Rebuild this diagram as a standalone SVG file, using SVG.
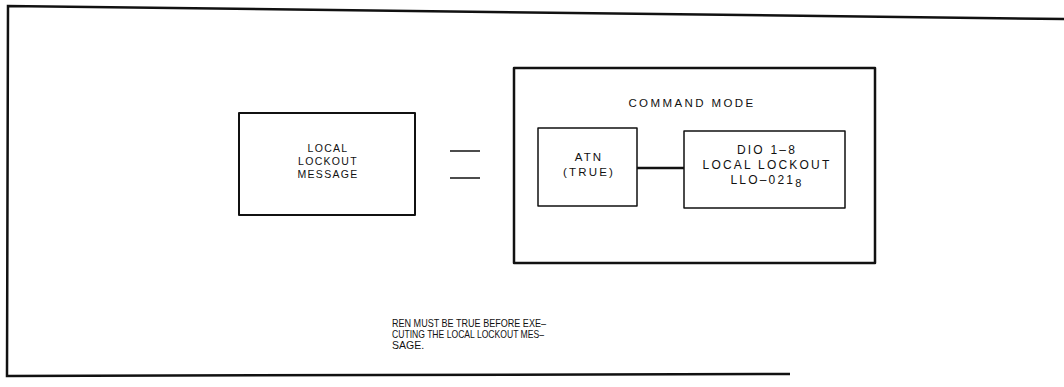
<svg xmlns="http://www.w3.org/2000/svg" width="1064" height="387" viewBox="0 0 1064 387">
<style>
.box{fill:none;stroke:#111;stroke-linejoin:round}
.t{font-family:"Liberation Sans",Arial,sans-serif;fill:#111;text-anchor:middle}
.note{font-family:"Liberation Sans",Arial,sans-serif;fill:#111;font-size:10.5px}
</style>
<rect width="1064" height="387" fill="#fff"/>
<g id="frame">
<polyline points="1064,19 8,6 7,376 790,374" fill="none" stroke="#111" stroke-width="2.5"/>
</g>
<g id="node-message">
<rect class="box" x="239" y="113" width="176" height="102" stroke-width="2"/>
<text class="t" font-size="10.5" letter-spacing="1.3"><tspan x="328" y="152">LOCAL</tspan><tspan x="328" y="165">LOCKOUT</tspan><tspan x="328" y="178">MESSAGE</tspan></text>
</g>
<g id="equals">
<line x1="450" y1="151" x2="480" y2="151" stroke="#111" stroke-width="1.5"/>
<line x1="450" y1="178" x2="480" y2="178" stroke="#111" stroke-width="1.5"/>
</g>
<g id="node-command-mode">
<rect class="box" x="514" y="68" width="361" height="195" stroke-width="2.5"/>
<text class="t" x="692" y="107" font-size="11.5" letter-spacing="2.4">COMMAND MODE</text>
</g>
<g id="node-atn">
<rect class="box" x="538" y="128" width="99" height="78" stroke-width="1.5"/>
<text class="t" font-size="11.5" letter-spacing="2.2"><tspan x="589" y="161">ATN</tspan><tspan x="589" y="176">(TRUE)</tspan></text>
</g>
<g id="node-dio">
<rect class="box" x="684" y="131" width="161" height="77" stroke-width="1.5"/>
<text class="t" font-size="12" letter-spacing="2.2"><tspan x="767" y="154">DIO 1–8</tspan><tspan x="767" y="169">LOCAL LOCKOUT</tspan><tspan x="767" y="184">LLO–021<tspan font-size="11" dy="3">8</tspan></tspan></text>
</g>
<g id="connectors">
<line x1="637" y1="168" x2="684" y2="168" stroke="#111" stroke-width="2.5"/>
</g>
<g id="note">
<text class="note" x="392" y="327" textLength="154" lengthAdjust="spacingAndGlyphs">REN MUST BE TRUE BEFORE EXE–</text>
<text class="note" x="392" y="338" textLength="152" lengthAdjust="spacingAndGlyphs">CUTING THE LOCAL LOCKOUT MES–</text>
<text class="note" x="392" y="349">SAGE.</text>
</g>
</svg>
